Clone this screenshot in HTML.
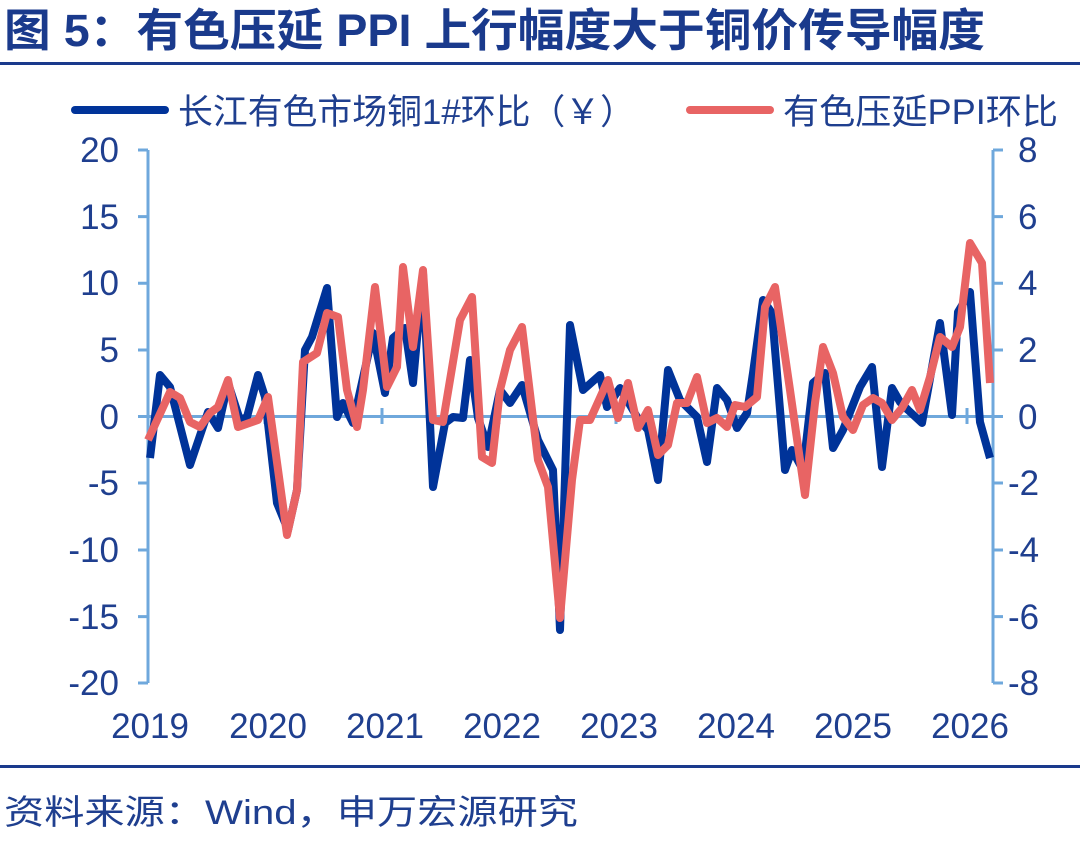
<!DOCTYPE html>
<html><head><meta charset="utf-8"><style>
body{margin:0;background:#fff;}
svg text{font-family:"Liberation Sans","Noto Sans CJK SC",sans-serif;}
</style></head><body>
<svg width="1080" height="839" viewBox="0 0 1080 839" xmlns="http://www.w3.org/2000/svg">
<rect width="1080" height="839" fill="#fff"/>
<text x="4" y="46" font-size="45" font-weight="bold" fill="#1a3a8c" textLength="981" lengthAdjust="spacingAndGlyphs">图 5：有色压延 PPI 上行幅度大于铜价传导幅度</text>
<rect x="0" y="62" width="1080" height="3" fill="#1a3a8c"/>
<line x1="75" y1="110" x2="165" y2="110" stroke="#003399" stroke-width="8" stroke-linecap="round"/>
<text x="178" y="124" font-size="35" fill="#1f3f8f" textLength="457" lengthAdjust="spacingAndGlyphs">长江有色市场铜1#环比（￥）</text>
<line x1="690" y1="110" x2="770" y2="110" stroke="#e86464" stroke-width="8" stroke-linecap="round"/>
<text x="783" y="124" font-size="35" fill="#1f3f8f" textLength="275" lengthAdjust="spacingAndGlyphs">有色压延PPI环比</text>
<g stroke="#6fa8dc" stroke-width="3" fill="none">
<line x1="148" y1="150" x2="148" y2="683"/>
<line x1="993" y1="150" x2="993" y2="683"/>
<line x1="148" y1="416.5" x2="993" y2="416.5"/>
<path d="M138 150h10M138 216.6h10M138 283.3h10M138 350h10M138 416.5h10M138 483h10M138 550h10M138 616.6h10M138 683h10"/>
<path d="M993 150h10M993 216.6h10M993 283.3h10M993 350h10M993 416.5h10M993 483h10M993 550h10M993 616.6h10M993 683h10"/>
<path d="M265 408v16M382 408v16M499 408v16M616 408v16M733 408v16M850 408v16M967 408v16"/>
</g>
<g font-size="35" fill="#1f3f8f" text-anchor="end">
<text x="119" y="162">20</text><text x="119" y="229">15</text><text x="119" y="295">10</text><text x="119" y="362">5</text><text x="119" y="429">0</text><text x="119" y="495">-5</text><text x="119" y="562">-10</text><text x="119" y="629">-15</text><text x="119" y="695">-20</text>
</g>
<g font-size="35" fill="#1f3f8f" text-anchor="start">
<text x="1018" y="162">8</text><text x="1018" y="229">6</text><text x="1018" y="295">4</text><text x="1018" y="362">2</text><text x="1018" y="429">0</text><text x="1008" y="495">-2</text><text x="1008" y="562">-4</text><text x="1008" y="629">-6</text><text x="1008" y="695">-8</text>
</g>
<g font-size="35" fill="#1f3f8f" text-anchor="middle">
<text x="150" y="738">2019</text><text x="268" y="738">2020</text><text x="385" y="738">2021</text><text x="502" y="738">2022</text><text x="619" y="738">2023</text><text x="736" y="738">2024</text><text x="853" y="738">2025</text><text x="970" y="738">2026</text>
</g>
<polyline fill="none" stroke="#003399" stroke-width="8" stroke-linejoin="round" points="150,458 160,375 170,387 190,465 208,412 218,428 228,383 240,420 247,417 258,375 265,397 277,503 288,530 297,490 305,350 312,337 327,288 337,417 343,403 353,423 373,333 385,393 393,338 405,328 413,383 423,273 433,487 445,423 453,417 463,418 470,360 478,418 488,447 500,390 510,403 522,385 538,440 553,470 560,630 570,325 583,390 600,375 607,407 620,388 637,417 648,430 658,480 668,370 680,400 697,417 707,462 717,388 727,400 737,428 747,413 753,373 763,300 772,313 785,470 792,450 803,470 813,383 825,373 833,448 843,430 860,387 872,367 882,467 892,388 900,402 908,410 922,423 940,323 952,415 958,312 970,292 980,422 990,458"/>
<polyline fill="none" stroke="#e86464" stroke-width="8" stroke-linejoin="round" points="148,440 170,392 180,398 190,422 200,427 210,413 218,407 228,380 238,427 258,420 268,397 287,535 297,490 303,362 317,353 327,313 338,317 347,390 357,427 363,390 375,287 387,387 397,367 403,267 413,347 423,270 433,420 443,422 460,320 472,297 482,457 492,463 500,390 510,350 522,327 538,460 548,487 560,618 572,480 580,420 590,420 608,380 618,418 628,383 638,428 648,410 658,455 668,445 677,403 687,403 697,377 707,423 717,418 727,427 735,405 745,407 757,397 765,307 775,287 790,390 805,495 815,403 823,347 833,373 843,417 853,430 863,405 873,398 882,403 892,420 902,408 912,390 920,410 930,377 940,337 952,347 960,327 970,243 982,263 990,383"/>
<rect x="0" y="765" width="1080" height="3" fill="#1a3a8c"/>
<text x="4" y="824" font-size="34" fill="#1f3f8f" textLength="574" lengthAdjust="spacingAndGlyphs">资料来源：Wind，申万宏源研究</text>
</svg>
</body></html>
